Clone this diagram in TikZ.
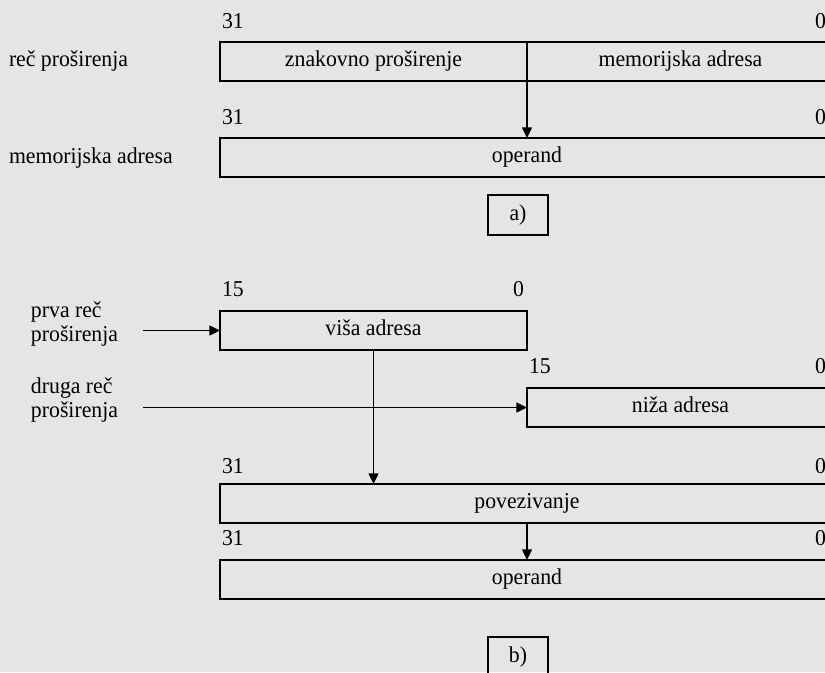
\documentclass[tikz,border=0pt]{standalone}
\usepackage{fontspec}
\setmainfont{Liberation Serif}[FakeStretch=0.96]
\usetikzlibrary{arrows.meta}
\definecolor{paper}{RGB}{229,229,229}
\def\u{0.75pt}
\begin{document}
\begin{tikzpicture}[x=0.75pt,y=-0.75pt,
  every node/.style={font=\fontsize{17}{17.8}\selectfont, inner sep=0pt, outer sep=0pt},
  field/.style={draw, line width=1.2pt, anchor=north west, minimum height=39*\u,
    text height=11pt, text depth=3.5pt},
  half/.style={field, minimum width=307*\u},
  full/.style={field, minimum width=614*\u},
  caption/.style={draw, line width=1.2pt, minimum width=60*\u, minimum height=40*\u,
    text height=11pt, text depth=3.5pt},
  bit/.style={anchor=base west},
  side/.style={anchor=base west},
  sidetwo/.style={anchor=west, align=left},
  conn/.style={line width=1pt, -{Triangle[length=8pt,width=7.5pt]}}]
\useasboundingbox (0,0) rectangle (825,672);
\fill[paper] (0,0) rectangle (825,672);
\clip (0,0) rectangle (825,672);

% a) 32-bit address formed from a sign-extended extension word
\node[bit] (a31) at (222,28) {31};
\node[bit] (a0)  at (815,28) {0};
\node[side] (lblw) at (9,66) {reč proširenja};
\node[half] (sx) at (220,42) {znakovno proširenje};
\node[half] (ma) at (527,42) {memorijska adresa};

\node[bit] (b31) at (222,124) {31};
\node[bit] (b0)  at (815,124) {0};
\node[side] (lbla) at (9,163) {memorijska adresa};
\node[full] (op1) at (220,138) {operand};
\draw[conn] (sx.south east) -- (op1.north);

\node[caption] (capa) at (518,215) {a)};

% b) 32-bit address assembled from two 16-bit extension words
\node[bit] (c15) at (222,296) {15};
\node[bit] (c0)  at (513,296) {0};
\node[sidetwo] (lblp) at (31,324) {prva reč\\proširenja};
\node[half] (hi) at (220,311) {viša adresa};
\coordinate (in1) at (143,330.5);
\draw[conn] (in1) -- (hi.west);

\node[bit] (d15) at (529,373) {15};
\node[bit] (d0)  at (815,373) {0};
\node[sidetwo] (lbld) at (31,400) {druga reč\\proširenja};
\node[half] (lo) at (527,388) {niža adresa};
\coordinate (in2) at (143,407.5);
\draw[conn] (in2) -- (lo.west);

\node[bit] (e31) at (222,473) {31};
\node[bit] (e0)  at (815,473) {0};
\node[full] (cat) at (220,484) {povezivanje};
\draw[conn] (hi.south) -- (hi.south |- cat.north);

\node[bit] (f31) at (222,545) {31};
\node[bit] (f0)  at (815,545) {0};
\node[full] (op2) at (220,560) {operand};
\draw[conn] (cat.south) -- (op2.north);

\node[caption] (capb) at (518,657) {b)};
\end{tikzpicture}
\end{document}
